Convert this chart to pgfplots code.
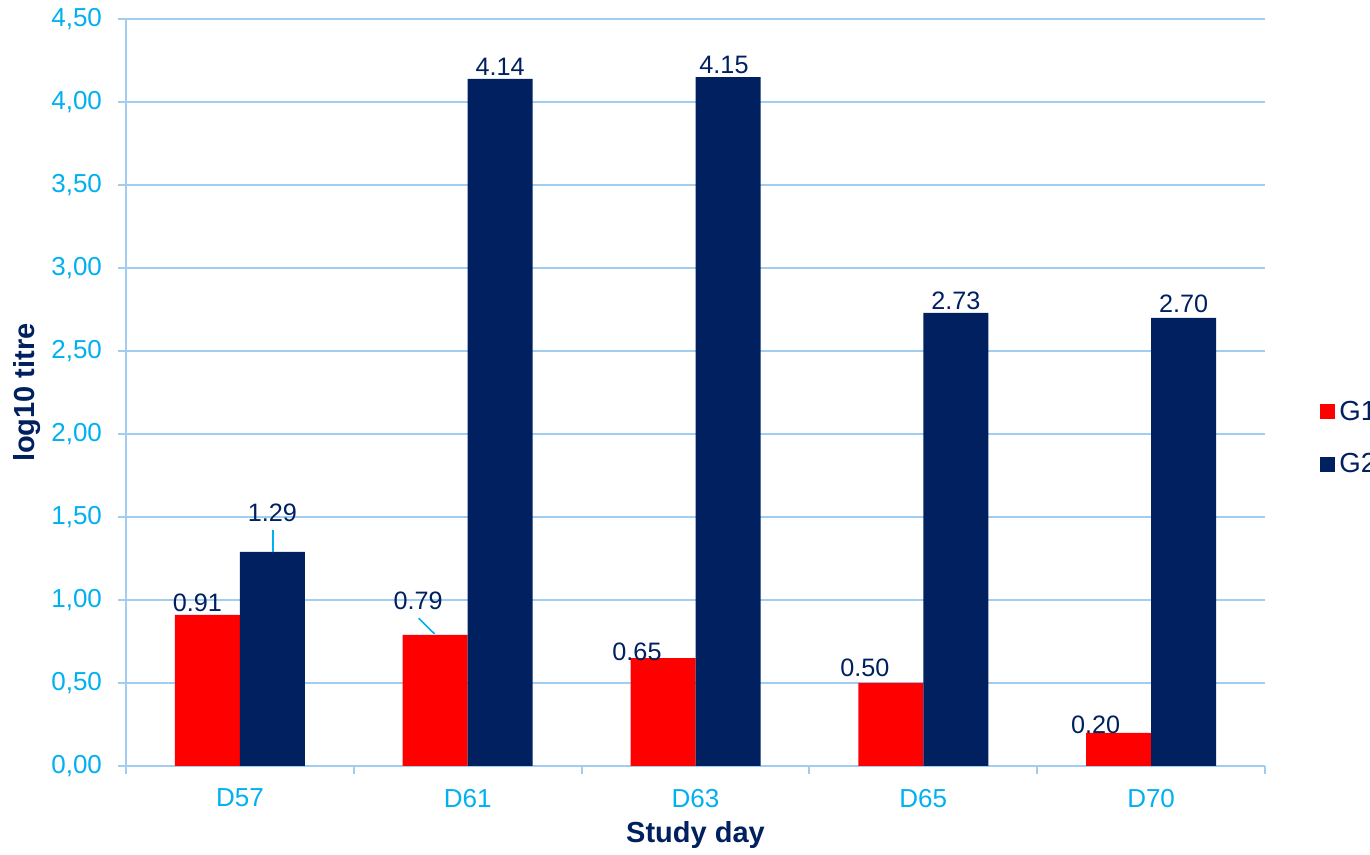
\documentclass[border=0pt]{standalone}
\usepackage{pgfplots}
\pgfplotsset{compat=1.18}
\usepackage{pgfplotstable}
\usepackage{fontspec}
\setmainfont{Liberation Sans}
\definecolor{tickblue}{RGB}{0,176,240}
\definecolor{gridblue}{RGB}{160,205,240}
\definecolor{navy}{RGB}{0,32,96}
\definecolor{barred}{RGB}{255,0,0}

\pgfplotstableread{
x y dx dy
0 0.91 -5 0
1 0.79 -8.5 11
2 0.65 -13 -3
3 0.50 -13 1.5
4 0.20 -11.5 -2
}\gone
\pgfplotstableread{
x y dx dy
0 1.29 0 13.5
1 4.14 0 0
2 4.15 -2 0
3 2.73 0 0
4 2.70 0 1
}\gtwo

\begin{document}
\begin{tikzpicture}
\useasboundingbox (-63pt,-44.5pt) rectangle (622pt,383pt);
\begin{axis}[
  at={(0,0)}, anchor=south west, scale only axis,
  width=569.5pt, height=373.5pt,
  ybar=0pt, bar width=32.5pt,
  xmin=-0.5, xmax=4.5, ymin=0, ymax=4.5,
  xtick={-0.5,0.5,...,4.5}, xticklabels={},
  extra x ticks={0,1,2,3,4},
  extra x tick labels={D57,D61,D63,D65,D70},
  extra x tick style={tick style={draw=none}},
  ytick={0,0.5,...,4.5},
  axis x line*=bottom, axis y line*=left,
  axis line style={gridblue, line width=1pt, -},
  tick align=outside,
  major tick length=4pt,
  tick style={gridblue, line width=1pt},
  ymajorgrids, grid style={gridblue, line width=1pt},
  yticklabel style={tickblue, font=\fontsize{13}{14}\selectfont, xshift=-4.5pt,
    /pgf/number format/.cd, fixed, fixed zerofill, precision=2, use comma, assume math mode=true},
  xticklabel style={tickblue, font=\fontsize{13}{14}\selectfont, yshift=-4pt},
  xlabel={Study day},
  xlabel style={at={(axis description cs:0.5,-0.0924)}, anchor=center,
    font=\bfseries\fontsize{14.5}{16}\selectfont, navy},
  ylabel={log10 titre},
  ylabel style={at={(axis description cs:-0.0869,0.5)}, anchor=center,
    font=\bfseries\fontsize{14.5}{16}\selectfont, navy},
  nodes near coords={\pgfmathprintnumber[fixed,fixed zerofill,precision=2,use period,assume math mode=true]{\pgfplotspointmeta}},
  nodes near coords style={navy, font=\fontsize{12.6}{14}\selectfont, inner sep=1.5pt, xshift=\dx pt, yshift=\dy pt},
  legend image code/.code={\fill[#1] (0pt,-3.75pt) rectangle (7.5pt,3.75pt);},
  legend style={at={(axis description cs:1.0378,0.439)}, anchor=west, xshift=6pt, draw=none, fill=none,
    font=\fontsize{13.8}{15}\selectfont, text=navy, row sep=11pt, inner sep=0pt,
    cells={anchor=west}},
]
\addplot[fill=barred, draw=none,
  visualization depends on={\thisrow{dx}\as\dx},
  visualization depends on={\thisrow{dy}\as\dy}] table[x=x,y=y] {\gone};
\addlegendentry{G1}
\addplot[fill=navy, draw=none,
  visualization depends on={\thisrow{dx}\as\dx},
  visualization depends on={\thisrow{dy}\as\dy}] table[x=x,y=y] {\gtwo};
\addlegendentry{G2}
\draw[tickblue, line width=0.8pt] (axis cs:0.1447,1.29) -- (axis cs:0.1447,1.42);
\draw[tickblue, line width=0.8pt] (axis cs:0.785,0.89) -- (axis cs:0.855,0.795);
\end{axis}
\end{tikzpicture}
\end{document}
